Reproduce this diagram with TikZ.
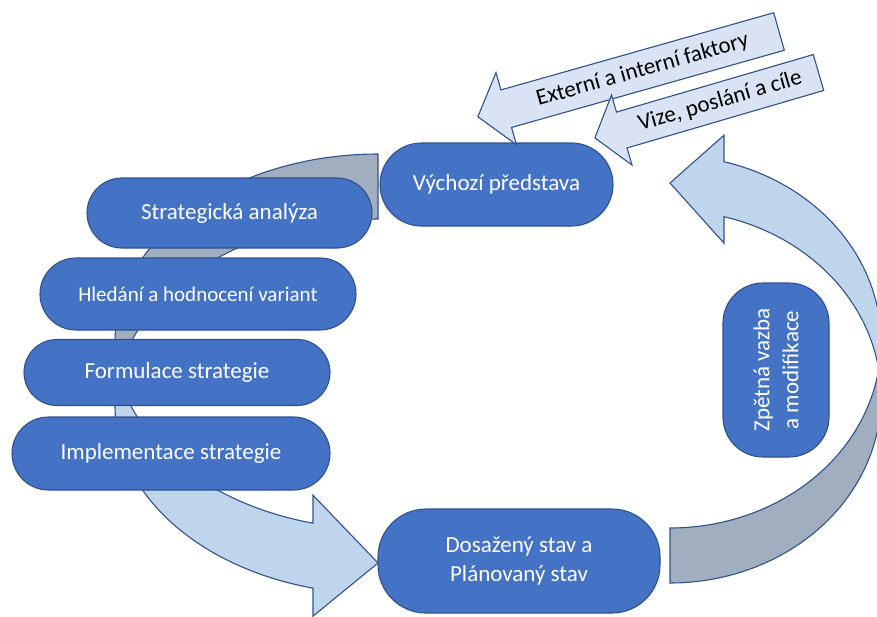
\documentclass[tikz,border=0pt]{standalone}
\usepackage{fontspec}
\setmainfont{Carlito}
\usetikzlibrary{shapes.misc}
\definecolor{nodeblue}{HTML}{4472C4}
\definecolor{edgeblue}{HTML}{2F528F}
\definecolor{frontblue}{HTML}{BFD5EC}
\definecolor{backgray}{HTML}{A0AEBF}
\definecolor{paleblue}{HTML}{DAE3F3}
\tikzset{
  outline/.style={draw=edgeblue, line width=1.1pt, line join=miter},
  stage/.style={outline, fill=nodeblue, text=white, inner sep=0pt, align=center, font=\fontsize{23}{29}\selectfont},
  pill/.style={stage, rounded rectangle},
  frontpart/.style={outline, fill=frontblue},
  backpart/.style={outline, fill=backgray},
  blockarrow/.style={outline, fill=paleblue},
  arrowtext/.style={text=black, inner sep=0pt, font=\fontsize{23}{28}\selectfont},
}
\begin{document}
\begin{tikzpicture}[x=1pt,y=-1pt]
\useasboundingbox (0,0) rectangle (877,616);
\clip (0,0) rectangle (877,616);
% left curved arrow (back and front parts)
\path[backpart] plot[domain=270:180,samples=60,variable=\t] ({378+263*cos(\t)},{341.5+187.5*sin(\t)})
  -- plot[domain=180:270,samples=60,variable=\t] ({378+263*cos(\t)},{406.5+187.5*sin(\t)}) -- cycle;
\path[frontpart] plot[domain=180:104.31,samples=60,variable=\t] ({378+263*cos(\t)},{341.5+187.5*sin(\t)})
  -- (313,495.2) -- (378,563) -- (313,616.2) -- (313,588.2)
  -- plot[domain=104.31:180,samples=60,variable=\t] ({378+263*cos(\t)},{406.5+187.5*sin(\t)}) -- cycle;
% right curved arrow (back and front parts)
\path[backpart] plot[domain=90:0,samples=60,variable=\t] ({670+211*cos(\t)},{396.75+186.25*sin(\t)})
  -- plot[domain=0:90,samples=60,variable=\t] ({670+211*cos(\t)},{341.75+186.25*sin(\t)}) -- cycle;
\path[frontpart] plot[domain=0:-75.17,samples=60,variable=\t] ({670+211*cos(\t)},{396.75+186.25*sin(\t)})
  -- (724,243.2) -- (670,183) -- (724,135.2) -- (724,161.7)
  -- plot[domain=-75.17:0,samples=60,variable=\t] ({670+211*cos(\t)},{341.75+186.25*sin(\t)}) -- cycle;
% stage nodes
\node[pill, minimum width=233pt, minimum height=83pt] (vychozi) at (496.5,184.5) {Výchozí představa};
\node[pill, minimum width=285pt, minimum height=70pt] (analyza) at (229.5,213) {Strategická analýza};
\node[pill, minimum width=316pt, minimum height=72pt, font=\fontsize{21}{26}\selectfont] (hledani) at (198,294) {Hledání a hodnocení variant};
\node[pill, minimum width=306pt, minimum height=66pt] (formulace) at (177,372.5) {Formulace strategie};
\node[pill, minimum width=318pt, minimum height=73pt] (implementace) at (171,453.5) {Implementace strategie};
\node[stage, rectangle, rounded corners=48pt, minimum width=282pt, minimum height=104pt] (dosazeny) at (519,561) {Dosažený stav a\\Plánovaný stav};
\node[stage, rectangle, rounded corners=40pt, minimum width=174pt, minimum height=106pt, rotate=90] (zpetna) at (776,370) {Zpětná vazba\\a modifikace};
% input block arrows
\begin{scope}[shift={(779,31.5)}, rotate=15.8]
\path[blockarrow] (0,-19.5) -- (-283.5,-19.5) -- (-283.5,-37.5) -- (-313,0) -- (-283.5,37.5) -- (-283.5,19.5) -- (0,19.5) -- cycle;
\node[arrowtext, rotate=15.8] (faktory) at (-141.75,0) {Externí a interní faktory};
\end{scope}
\begin{scope}[shift={(818.5,72.5)}, rotate=16.3]
\path[blockarrow] (0,-18.7) -- (-205,-18.7) -- (-205,-36.5) -- (-233,0) -- (-205,36.5) -- (-205,18.7) -- (0,18.7) -- cycle;
\node[arrowtext, rotate=16.3] (vize) at (-102.5,0) {Vize, poslání a cíle};
\end{scope}
\end{tikzpicture}
\end{document}
